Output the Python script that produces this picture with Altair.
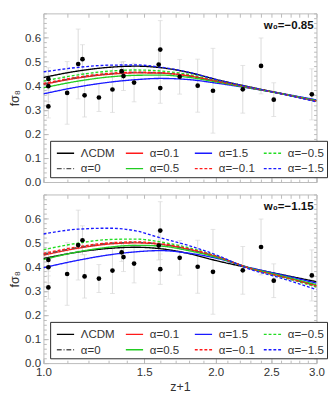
import altair as alt
import pandas as pd

# ---------------- data ----------------
z_obs = [1.02, 1.02, 1.02, 1.10, 1.15, 1.17, 1.18, 1.25, 1.32, 1.37, 1.38, 1.44,
         1.59, 1.60, 1.60, 1.73, 1.86, 1.978, 2.23, 2.40, 2.526, 2.944]
fs8_obs = [0.314, 0.398, 0.428, 0.370, 0.490, 0.510, 0.360, 0.351, 0.384, 0.460, 0.440, 0.413,
           0.488, 0.550, 0.390, 0.437, 0.400, 0.379, 0.385, 0.482, 0.342, 0.364]
err_obs = [0.048, 0.065, 0.0465, 0.130, 0.145, 0.060, 0.090, 0.058, 0.095, 0.038, 0.060, 0.080,
           0.060, 0.120, 0.063, 0.072, 0.110, 0.176, 0.099, 0.116, 0.070, 0.106]

x_grid = [1.0, 1.15, 1.3, 1.45, 1.6, 1.8, 2.0, 2.3, 2.6, 3.0]

labels = ["ΛCDM", "α=0.1", "α=1.5", "α=−0.5", "α=0", "α=0.5", "α=−0.1", "α=−1.5"]
colors = ["#000000", "#ff1a1a", "#1a1aff", "#22dd22", "#555555", "#22cc22", "#ff1a1a", "#1a1aff"]
dashes = [[1, 0], [1, 0], [1, 0], [3, 2], [5, 2, 1, 2], [1, 0], [3, 2], [3, 2]]

# panel 1: w0 = -0.85
lcdm_t = [0.434, 0.461, 0.476, 0.481, 0.475, 0.454, 0.426, 0.394, 0.368, 0.338]
a01_t = [0.405, 0.432, 0.447, 0.453, 0.452, 0.440, 0.419, 0.391, 0.367, 0.337]
a15_t = [0.366, 0.395, 0.414, 0.425, 0.430, 0.425, 0.411, 0.389, 0.368, 0.341]
am05_t = [0.419, 0.445, 0.460, 0.465, 0.461, 0.446, 0.422, 0.392, 0.367, 0.335]
a0_t = [0.407, 0.434, 0.449, 0.455, 0.453, 0.440, 0.419, 0.391, 0.367, 0.336]
a05_t = [0.391, 0.419, 0.436, 0.443, 0.444, 0.434, 0.416, 0.390, 0.367, 0.338]
am01_t = [0.409, 0.436, 0.451, 0.456, 0.454, 0.441, 0.419, 0.391, 0.367, 0.336]
am15_t = [0.457, 0.476, 0.485, 0.486, 0.477, 0.455, 0.426, 0.393, 0.366, 0.333]

# panel 2: w0 = -1.15
lcdm_b = [0.434, 0.461, 0.476, 0.481, 0.475, 0.454, 0.426, 0.394, 0.368, 0.338]
a01_b = [0.448, 0.477, 0.494, 0.499, 0.493, 0.471, 0.442, 0.393, 0.361, 0.322]
a15_b = [0.396, 0.427, 0.449, 0.462, 0.467, 0.456, 0.436, 0.396, 0.367, 0.332]
am05_b = [0.471, 0.498, 0.513, 0.515, 0.503, 0.478, 0.446, 0.392, 0.358, 0.316]
a0_b = [0.452, 0.480, 0.497, 0.501, 0.494, 0.472, 0.443, 0.393, 0.360, 0.321]
a05_b = [0.430, 0.462, 0.481, 0.489, 0.486, 0.466, 0.440, 0.394, 0.363, 0.325]
am01_b = [0.455, 0.483, 0.499, 0.503, 0.496, 0.474, 0.444, 0.393, 0.360, 0.320]
am15_b = [0.536, 0.556, 0.560, 0.549, 0.520, 0.487, 0.450, 0.389, 0.353, 0.305]

panel_titles = ["w₀=−0.85", "w₀=−1.15"]
x_major = [1.0, 1.5, 2.0, 2.5, 3.0]
x_minor = [round(1.0 + 0.1 * i, 1) for i in range(21)]
y_major = [0.0, 0.1, 0.2, 0.3, 0.4, 0.5, 0.6]
y_minor = [round(0.02 * i, 2) for i in range(36)]

series_t = [lcdm_t, a01_t, a15_t, am05_t, a0_t, a05_t, am01_t, am15_t]
series_b = [lcdm_b, a01_b, a15_b, am05_b, a0_b, a05_b, am01_b, am15_b]

obs = pd.DataFrame({"z1": z_obs, "fs8": fs8_obs, "err": err_obs})
obs["lo"] = obs["fs8"] - obs["err"]
obs["hi"] = obs["fs8"] + obs["err"]

FRAME = "#b9b9b9"
TXT = "#333333"
FONT = "Liberation Sans"


def curves_df(series):
    rows = []
    for lab, vals in zip(labels, series):
        for x, v in zip(x_grid, vals):
            rows.append({"z1": x, "val": v, "model": lab})
    return pd.DataFrame(rows)


def panel(series, title_text, show_x):
    xs = alt.Scale(type="log", domain=[1.0, 3.0], nice=False, zero=False)
    ys = alt.Scale(domain=[0.0, 0.7], nice=False, zero=False)

    ax_lab_x = alt.Axis(orient="bottom", values=x_major, format=".1f", labels=show_x, ticks=False,
                        domain=False, grid=False, labelFlush=False, labelPadding=4,
                        title="z+1" if show_x else None, titlePadding=4)
    ax_lab_y = alt.Axis(orient="left", values=y_major, format=".1f", ticks=False, domain=False,
                        grid=False, labelPadding=3, title="fσ₈", titlePadding=3)

    rules = alt.Chart(obs).mark_rule(color="#d9d9d9", strokeWidth=1).encode(
        x=alt.X("z1:Q", scale=xs, axis=ax_lab_x),
        y=alt.Y("lo:Q", scale=ys, axis=ax_lab_y),
        y2="hi:Q",
    )

    caps = alt.Chart(obs).transform_fold(["lo", "hi"], as_=["end", "v"]).mark_tick(
        orient="horizontal", size=5, thickness=1, color="#d9d9d9"
    ).encode(
        x=alt.X("z1:Q", scale=xs, axis=alt.Axis(orient="bottom", values=x_major, labels=False,
                                                 domain=False, grid=False, tickSize=5, offset=-5,
                                                 tickColor=FRAME, title=None)),
        y=alt.Y("v:Q", scale=ys, axis=alt.Axis(orient="left", values=y_major, labels=False,
                                                domain=False, grid=False, tickSize=5, offset=-5,
                                                tickColor=FRAME, title=None)),
    )

    leg = alt.Legend(orient="none", legendX=7, legendY=133, columns=4, direction="horizontal",
                     title=None, gridAlign="all",
                     symbolType="stroke", symbolSize=324, symbolStrokeWidth=1.5, symbolOffset=3,
                     labelFont=FONT, labelFontSize=12, labelColor=TXT, labelOffset=6,
                     columnPadding=5, rowPadding=0, padding=3,
                     fillColor="white", strokeColor="#222222")

    lines = alt.Chart(curves_df(series)).mark_line(interpolate="monotone", strokeWidth=1.4,
                                                    clip=True).encode(
        x=alt.X("z1:Q", scale=xs, axis=alt.Axis(orient="top", values=x_minor, labels=False,
                                                 domain=False, grid=False, tickSize=4, offset=-4,
                                                 tickColor=FRAME, title=None)),
        y=alt.Y("val:Q", scale=ys, axis=alt.Axis(orient="right", values=y_minor, labels=False,
                                                  domain=False, grid=False, tickSize=3, offset=-3,
                                                  tickColor=FRAME, title=None)),
        color=alt.Color("model:N", scale=alt.Scale(domain=labels, range=colors), legend=leg),
        strokeDash=alt.StrokeDash("model:N", scale=alt.Scale(domain=labels, range=dashes), legend=leg),
    )

    pts = alt.Chart(obs).mark_circle(size=24, color="black", opacity=1).encode(
        x=alt.X("z1:Q", scale=xs, axis=alt.Axis(orient="bottom", values=x_minor, labels=False,
                                                 domain=False, grid=False, tickSize=3, offset=-3,
                                                 tickColor=FRAME, title=None)),
        y=alt.Y("fs8:Q", scale=ys, axis=alt.Axis(orient="left", values=y_minor, labels=False,
                                                  domain=False, grid=False, tickSize=3, offset=-3,
                                                  tickColor=FRAME, title=None)),
    )

    txt = alt.Chart(pd.DataFrame({"t": [title_text]})).mark_text(
        align="right", baseline="alphabetic", font=FONT, fontSize=12, fontWeight="bold", color="#111"
    ).encode(x=alt.value(282), y=alt.value(16), text="t:N")

    return alt.layer(rules, caps, lines, pts, txt).resolve_axis(
        x="independent", y="independent"
    ).properties(width=285, height=176)


top = panel(series_t, panel_titles[0], False)
bottom = panel(series_b, panel_titles[1], True)

chart = alt.vconcat(top, bottom, spacing=5).resolve_scale(
    color="independent", strokeDash="independent"
).resolve_legend(color="independent", strokeDash="independent").properties(
    padding={"left": 0, "top": -4, "right": 0, "bottom": 0}
).configure_view(stroke=FRAME, strokeWidth=1).configure_axis(
    labelFont=FONT, labelFontSize=12, labelColor=TXT, titleFont=FONT, titleFontSize=13,
    titleColor=TXT, titleFontWeight="normal"
)

chart.save("out.html", embed_options={"renderer": "svg", "actions": False})
